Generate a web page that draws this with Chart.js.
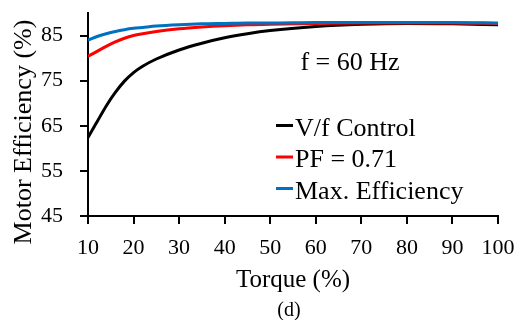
<!DOCTYPE html>
<html>
<head>
<meta charset="utf-8">
<script src="https://cdn.jsdelivr.net/npm/chart.js@4.4.1/dist/chart.umd.min.js"></script>
<style>
html,body{margin:0;padding:0;background:#fff;}
#wrap{width:529px;height:320px;position:relative;}
</style>
</head>
<body>
<div id="wrap"><canvas id="c" width="529" height="320"></canvas></div>
<script>
// ---- data ----
const torque = [10,12,14,16,18,20,22,25,30,35,40,45,50,60,70,80,90,100];
const vfControl = [62.4,65.9,69.4,72.4,74.9,76.8,78.2,79.8,81.8,83.3,84.5,85.4,86.1,87.0,87.5,87.7,87.6,87.4];
const pf071 = [80.4,81.5,82.6,83.6,84.4,85.0,85.4,85.9,86.5,86.9,87.2,87.4,87.5,87.7,87.8,87.8,87.8,87.7];
const maxEff = [84.0,84.8,85.4,85.9,86.3,86.6,86.8,87.1,87.4,87.6,87.7,87.8,87.8,87.9,87.9,87.9,87.9,87.8];
const seriesNames = ["V/f Control","PF = 0.71","Max. Efficiency"];
const yTicks = [45,55,65,75,85];
const xTicks = [10,20,30,40,50,60,70,80,90,100];
const xTitle = "Torque (%)";
const yTitle = "Motor Efficiency (%)";
const note = "f = 60 Hz";
const caption = "(d)";

const SERIF = "'Liberation Serif','Times New Roman',serif";
Chart.defaults.font.family = SERIF;
Chart.defaults.color = '#000';

const colors = ['#000000','#ff0000','#0070c0'];
const seriesData = [vfControl, pf071, maxEff];

const datasets = seriesData.map((arr,i)=>({
  label: seriesNames[i],
  data: torque.map((t,j)=>({x:t,y:arr[j]})),
  borderColor: colors[i],
  backgroundColor: colors[i],
  borderWidth: 3,
  pointRadius: 0,
  cubicInterpolationMode: 'monotone',
  order: 3 - i
}));

const textPlugin = {
  id: 'texts',
  afterDraw(chart){
    const ctx = chart.ctx;
    ctx.save();
    ctx.fillStyle = '#000';
    // y title
    ctx.font = '26px ' + SERIF;
    ctx.textAlign = 'center';
    ctx.textBaseline = 'middle';
    ctx.save();
    ctx.translate(24, 132);
    ctx.rotate(-Math.PI/2);
    ctx.fillText(yTitle, 0, 0);
    ctx.restore();
    // x title
    ctx.textBaseline = 'alphabetic';
    ctx.font = '25px ' + SERIF;
    ctx.fillText(xTitle, (chart.chartArea.left + chart.chartArea.right)/2, 287);
    // caption
    ctx.font = '20px ' + SERIF;
    ctx.fillText(caption, 289, 316);
    // note
    ctx.font = '26px ' + SERIF;
    ctx.fillText(note, 350, 70);
    // legend
    ctx.textAlign = 'left';
    const baselines = [135.5, 167, 198.5];
    chart.data.datasets.forEach((ds,i)=>{
      const b = baselines[i];
      ctx.strokeStyle = ds.borderColor;
      ctx.lineWidth = 3;
      ctx.beginPath();
      ctx.moveTo(276, b - 10);
      ctx.lineTo(293, b - 10);
      ctx.stroke();
      ctx.fillStyle = '#000';
      ctx.fillText(ds.label, 295, b);
    });
    ctx.restore();
  }
};

new Chart(document.getElementById('c'), {
  type: 'line',
  data: { datasets },
  options: {
    responsive: false,
    animation: false,
    devicePixelRatio: 1,
    layout: { padding: { left: 0, right: 31, top: 13, bottom: 0 } },
    plugins: { legend: { display: false }, tooltip: { enabled: false } },
    scales: {
      x: {
        type: 'linear',
        min: 10, max: 100,
        afterFit(s){ s.height = 104; s.paddingLeft = 0; s.paddingRight = 0; },
        afterBuildTicks(s){ s.ticks = xTicks.map(v=>({value:v})); },
        border: { display: true, color: '#000', width: 2 },
        grid: { display: true, drawOnChartArea: false, drawTicks: true, tickLength: 8, color: '#000', lineWidth: 2 },
        ticks: { font: { size: 22 }, color: '#000', padding: 11, maxRotation: 0, autoSkip: false }
      },
      y: {
        type: 'linear',
        min: 45, max: 90,
        afterFit(s){ s.width = 88; s.paddingTop = 0; s.paddingBottom = 0; },
        afterBuildTicks(s){ s.ticks = yTicks.map(v=>({value:v})); },
        border: { display: true, color: '#000', width: 2 },
        grid: { display: true, drawOnChartArea: false, drawTicks: true, tickLength: 8, color: '#000', lineWidth: 2 },
        ticks: { font: { size: 22 }, color: '#000', padding: 17, autoSkip: false }
      }
    }
  },
  plugins: [textPlugin]
});
</script>
</body>
</html>
